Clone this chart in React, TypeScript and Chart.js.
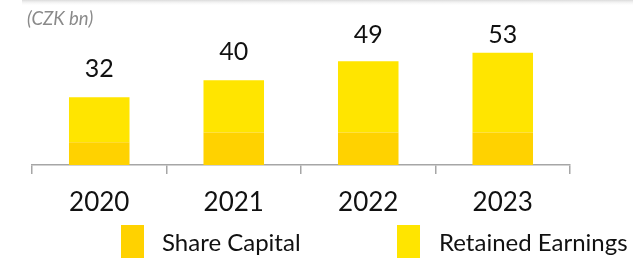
import React, { useEffect, useRef } from "react";
import { Chart, registerables } from "chart.js";

Chart.register(...registerables);

const categories = ["2020", "2021", "2022", "2023"];
const shareCapital = [10.8, 15.3, 15.3, 15.3];
const retainedEarnings = [21.2, 24.7, 33.7, 37.7];
const totalLabels = ["32", "40", "49", "53"];
const seriesNames = ["Share Capital", "Retained Earnings"];
const unitLabel = "(CZK bn)";

const COLOR_SHARE = "#FFD200";
const COLOR_RETAINED = "#FFE500";
const AXIS_COLOR = "#a6a6a6";
const FONT = "Lato, 'Open Sans', sans-serif";

const decorPlugin = {
  id: "decor",
  afterDraw(chart: any) {
    const ctx = chart.ctx as CanvasRenderingContext2D;
    const area = chart.chartArea;
    ctx.save();
    // top shadow band
    const g = ctx.createLinearGradient(0, 0, 0, 6);
    g.addColorStop(0, "rgba(215,215,215,0.9)");
    g.addColorStop(1, "rgba(255,255,255,0)");
    ctx.fillStyle = g;
    ctx.fillRect(22, 0, chart.width - 22, 6);

    // unit title
    ctx.fillStyle = "#8a8a8a";
    ctx.font = `italic 18.5px ${FONT}`;
    ctx.textAlign = "left";
    ctx.textBaseline = "middle";
    ctx.fillText(unitLabel, 27, 19);

    // totals above bars
    const meta = chart.getDatasetMeta(1);
    ctx.fillStyle = "#111";
    ctx.font = `25px ${FONT}`;
    ctx.textAlign = "center";
    meta.data.forEach((bar: any, i: number) => {
      const y = Math.max(bar.y - 28, area.top - 3);
      ctx.fillText(totalLabels[i], bar.x, y);
    });

    // legend
    const items = [
      { color: COLOR_SHARE, text: seriesNames[0], box: 121, textX: 162 },
      { color: COLOR_RETAINED, text: seriesNames[1], box: 397, textX: 439 },
    ];
    ctx.font = `24px ${FONT}`;
    ctx.textAlign = "left";
    ctx.textBaseline = "middle";
    items.forEach((it) => {
      ctx.fillStyle = it.color;
      ctx.fillRect(it.box, 225, 23, 36);
      ctx.fillStyle = "#111";
      ctx.fillText(it.text, it.textX, 243);
    });
    ctx.restore();
  },
};

export default function App() {
  const ref = useRef<HTMLCanvasElement | null>(null);
  useEffect(() => {
    if (!ref.current) return;
    const chart = new Chart(ref.current, {
      type: "bar",
      data: {
        labels: categories,
        datasets: [
          {
            label: seriesNames[0],
            data: shareCapital,
            backgroundColor: COLOR_SHARE,
            barPercentage: 0.9,
            categoryPercentage: 0.5,
          },
          {
            label: seriesNames[1],
            data: retainedEarnings,
            backgroundColor: COLOR_RETAINED,
            barPercentage: 0.9,
            categoryPercentage: 0.5,
          },
        ],
      },
      options: {
        animation: false,
        responsive: false,
        devicePixelRatio: 1,
        layout: { padding: { left: 32, right: 63, top: 38, bottom: 40 } },
        plugins: {
          legend: { display: false },
          tooltip: { enabled: false },
          title: { display: false },
        },
        scales: {
          x: {
            stacked: true,
            grid: {
              display: true,
              drawOnChartArea: false,
              drawTicks: true,
              tickLength: 9,
              color: AXIS_COLOR,
              lineWidth: 1.5,
              offset: true,
            },
            border: { display: true, color: AXIS_COLOR, width: 1.5 },
            ticks: {
              color: "#111",
              font: { family: FONT, size: 26 },
              padding: 13,
            },
            afterFit: (s: any) => {
              s.height = 53;
            },
          },
          y: {
            stacked: true,
            display: false,
            min: 0,
            max: 60,
          },
        },
      },
      plugins: [decorPlugin],
    });
    return () => chart.destroy();
  }, []);
  return (
    <div
      style={{
        position: "fixed",
        left: 0,
        top: 0,
        width: 633,
        height: 258,
        background: "#fff",
      }}
    >
      <canvas ref={ref} width={633} height={258} />
    </div>
  );
}
